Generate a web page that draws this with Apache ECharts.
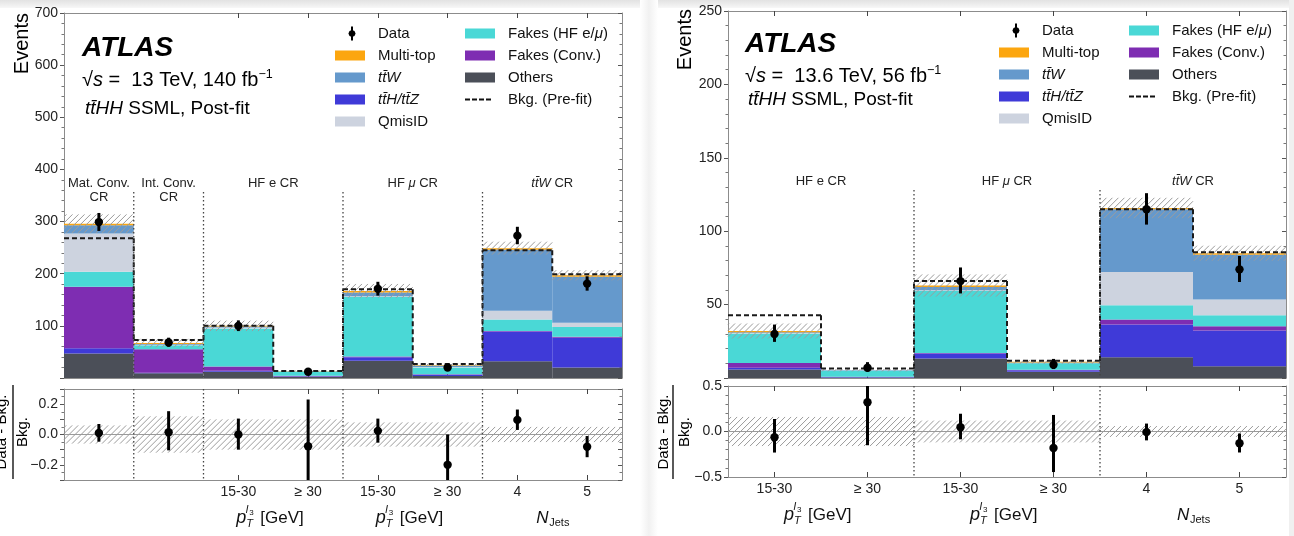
<!DOCTYPE html>
<html>
<head>
<meta charset="utf-8">
<title>ttHH SSML control regions</title>
<script src="https://cdn.jsdelivr.net/npm/echarts@6.0.0/dist/echarts.min.js"></script>
<style>
html, body { margin:0; padding:0; background:#ffffff; }
#chart { width:1294px; height:536px; }
</style>
</head>
<body>
<div id="chart"></div>
<script>
// ===================== DATA =====================
// Left figure: sqrt(s) = 13 TeV, 140 fb^-1
const L_binLabels = ['', '', '15-30', '≥ 30', '15-30', '≥ 30', '4', '5'];
const L_others    = [47, 9, 12, 2.5, 33, 4, 32, 20];
const L_ttHZ      = [10, 1, 2, 1, 7, 2, 57, 57];
const L_fakeConv  = [118, 45, 8, 1, 1, 1, 1, 2];
const L_fakeHF    = [29, 8, 73, 8, 115, 13, 22, 19];
const L_qmisid    = [73, 1, 2, 0, 1, 1, 17, 8];
const L_ttW       = [16, 1, 2, 0, 7, 3, 117, 88];
const L_multitop  = [3, 2, 1, 0.5, 3, 1, 3, 3];
const L_data      = [299, 68, 100, 12, 171, 20, 273, 181];
const L_dataErrUp = [17.5, 9.3, 10.5, 4.0, 13.5, 5.0, 17, 14];
const L_dataErrDn = [17, 8, 10, 3.4, 13, 4.4, 16.5, 13.5];
const L_prefit    = [268, 73, 100, 13.5, 170, 27, 245, 199];
const L_bkgUncRel = [0.06, 0.12, 0.10, 0.10, 0.08, 0.08, 0.05, 0.05];
const L_regionStart  = [0, 1, 2, 4, 6];
const L_regionEnd    = [1, 2, 4, 6, 8];
const L_regionLabels = ['Mat. Conv.\nCR', 'Int. Conv.\nCR', 'HF e CR', 'HF {i|μ} CR', '{i|tt\u0304W} CR'];
const L_regionVar    = ['', '', 'pt', 'pt', 'nj'];

// Right figure: sqrt(s) = 13.6 TeV, 56 fb^-1
const R_binLabels = ['15-30', '≥ 30', '15-30', '≥ 30', '4', '5'];
const R_others    = [5.8, 0.4, 13.3, 4.3, 14.2, 8];
const R_ttHZ      = [1.2, 0.2, 3.4, 1, 22.2, 24.3];
const R_fakeConv  = [3.3, 0.3, 0.3, 0.3, 3.4, 3];
const R_fakeHF    = [20, 4.1, 42.5, 4.5, 9.7, 7.4];
const R_qmisid    = [0.3, 0, 0.3, 0, 22.7, 10.7];
const R_ttW       = [0.6, 0.2, 2.2, 0.4, 42.8, 30.6];
const R_multitop  = [0.8, 0.1, 1, 0.5, 0.8, 1];
const R_data      = [30, 7, 66, 9, 115, 74];
const R_dataErrUp = [6.4, 3.8, 9.3, 4.0, 10.9, 9.1];
const R_dataErrDn = [5.4, 2.5, 8.4, 2.9, 10.5, 8.6];
const R_prefit    = [42.7, 6.5, 66, 11.8, 115, 85.6];
const R_bkgUncRel = [0.16, 0.16, 0.12, 0.12, 0.06, 0.06];
const R_regionStart  = [0, 2, 4];
const R_regionEnd    = [2, 4, 6];
const R_regionLabels = ['HF e CR', 'HF {i|μ} CR', '{i|tt\u0304W} CR'];
const R_regionVar    = ['pt', 'pt', 'nj'];

// Stack order, bottom to top
const procNames = ['Others', 'tt\u0304H/tt\u0304Z', 'Fakes (Conv.)', 'Fakes (HF e/μ)', 'QmisID', 'tt\u0304W', 'Multi-top'];
const legendColA = ['Data', 'Multi-top', 'tt\u0304W', 'tt\u0304H/tt\u0304Z', 'QmisID'];
const legendColB = ['Fakes (HF e/μ)', 'Fakes (Conv.)', 'Others', 'Bkg. (Pre-fit)'];

// ===================== STYLE =====================
const FONT = '"Liberation Sans", Arial, Helvetica, sans-serif';
const procColors = ['#4b4f58', '#3f3ad8', '#7e2db2', '#4ad8d6', '#cdd3df', '#6599cc', '#fca60f'];
const HATCH = { stroke: '#9c9c9c', lineWidth: 1 };

function hatchRect(x0, y0, x1, y1) {
  const h = y1 - y0, s = 6, out = [];
  if (h <= 0) return out;
  const kStart = Math.floor((x0 - h) / s) * s;
  for (let k = kStart; k <= x1; k += s) {
    const t0 = Math.max(0, (x0 - k) / h), t1 = Math.min(1, (x1 - k) / h);
    if (t1 <= t0) continue;
    out.push({ type: 'line', shape: { x1: k + t0 * h, y1: y1 - t0 * h, x2: k + t1 * h, y2: y1 - t1 * h }, style: HATCH, silent: true });
  }
  return out;
}

function dataRender(params, api) {
  const cs = params.coordSys;
  const i = api.value(0), y = api.value(1), dn = api.value(2), up = api.value(3);
  const c = api.coord([i, y]), lo = api.coord([i, y - dn]), hi = api.coord([i, y + up]);
  const clamp = v => Math.min(Math.max(v, cs.y), cs.y + cs.height);
  const ch = [{ type: 'line', shape: { x1: c[0], y1: clamp(lo[1]), x2: c[0], y2: clamp(hi[1]) }, style: { stroke: '#000', lineWidth: 3 } }];
  if (c[1] >= cs.y && c[1] <= cs.y + cs.height) ch.push({ type: 'circle', shape: { cx: c[0], cy: c[1], r: 4.2 }, style: { fill: '#000' } });
  return { type: 'group', children: ch };
}

function varTitle(kind, cx, cy) {
  const base = { fontFamily: FONT, fill: '#111', textVerticalAlign: 'middle', verticalAlign: 'middle', textAlign: 'left', align: 'left' };
  if (kind === 'pt') return [
    { type: 'text', x: cx - 37, y: cy, style: Object.assign({}, base, { text: 'p', fontSize: 18, fontStyle: 'italic' }) },
    { type: 'text', x: cx - 27, y: cy + 6, style: Object.assign({}, base, { text: 'T', fontSize: 11, fontStyle: 'italic' }) },
    { type: 'text', x: cx - 27.5, y: cy - 8, style: Object.assign({}, base, { text: 'l', fontSize: 11, fontStyle: 'italic' }) },
    { type: 'text', x: cx - 24, y: cy - 5, style: Object.assign({}, base, { text: '3', fontSize: 8 }) },
    { type: 'text', x: cx - 13, y: cy, style: Object.assign({}, base, { text: '[GeV]', fontSize: 17 }) }
  ];
  if (kind === 'nj') return [
    { type: 'text', x: cx - 16, y: cy, style: Object.assign({}, base, { text: 'N', fontSize: 17, fontStyle: 'italic' }) },
    { type: 'text', x: cx - 3, y: cy + 5, style: Object.assign({}, base, { text: 'Jets', fontSize: 11 }) }
  ];
  return [];
}

function regionEdges(api, s, e) {
  const w = api.size([1, 0])[0];
  return [api.coord([s, 0])[0] - w / 2, api.coord([e - 1, 0])[0] + w / 2];
}

function buildPanel(p, ax) {
  const n = p.bins.length;
  const total = p.bins.map((_, i) => p.comps.reduce((s, c) => s + c[i], 0));
  const series = [];
  const cum = new Array(n).fill(0);
  // stacked backgrounds
  p.comps.forEach((c, k) => {
    const d = c.map((v, i) => { const b = cum[i]; cum[i] += v; return [i, b, cum[i]]; });
    series.push({
      type: 'custom', name: procNames[k], xAxisIndex: ax.mx, yAxisIndex: ax.my, z: 2,
      itemStyle: { color: procColors[k] }, data: d,
      renderItem: (params, api) => {
        const i = api.value(0), w = api.size([1, 0])[0];
        const a = api.coord([i, api.value(1)]), b = api.coord([i, api.value(2)]);
        return { type: 'rect', shape: { x: a[0] - w / 2, y: b[1], width: w, height: Math.max(a[1] - b[1], 0) }, style: { fill: procColors[k] } };
      }
    });
  });
  // uncertainty band (main)
  series.push({
    type: 'custom', name: 'uncMain', xAxisIndex: ax.mx, yAxisIndex: ax.my, z: 3, silent: true,
    data: total.map((t, i) => [i, t * (1 - p.unc[i]), t * (1 + p.unc[i])]),
    renderItem: (params, api) => {
      const i = api.value(0), w = api.size([1, 0])[0];
      const lo = api.coord([i, api.value(1)]), hi = api.coord([i, api.value(2)]);
      return { type: 'group', children: hatchRect(lo[0] - w / 2, hi[1], lo[0] + w / 2, lo[1]) };
    }
  });
  // pre-fit background (dashed step)
  series.push({
    type: 'custom', name: 'Bkg. (Pre-fit)', xAxisIndex: ax.mx, yAxisIndex: ax.my, z: 4,
    itemStyle: { color: '#111' },
    data: p.prefit.map((v, i) => [i, v, i > 0 ? p.prefit[i - 1] : v]),
    renderItem: (params, api) => {
      const i = api.value(0), w = api.size([1, 0])[0];
      const c = api.coord([i, api.value(1)]), pr = api.coord([i, api.value(2)]);
      const st = { stroke: '#1a1a1a', lineWidth: 2, lineDash: [5, 3] };
      const ch = [{ type: 'line', shape: { x1: c[0] - w / 2, y1: c[1], x2: c[0] + w / 2, y2: c[1] }, style: st }];
      if (i > 0) ch.push({ type: 'line', shape: { x1: c[0] - w / 2, y1: pr[1], x2: c[0] - w / 2, y2: c[1] }, style: st });
      return { type: 'group', children: ch };
    }
  });
  // region labels and separators (main)
  series.push({
    type: 'custom', name: 'regionsMain', xAxisIndex: ax.mx, yAxisIndex: ax.my, z: 4, silent: true, clip: false,
    data: p.rStart.map((s, j) => [s, p.rEnd[j]]),
    renderItem: (params, api) => {
      const cs = params.coordSys;
      const s = api.value(0), e = api.value(1);
      const [xs, xe] = regionEdges(api, s, e);
      const ch = [{
        type: 'text', x: (xs + xe) / 2, y: cs.y + 163,
        style: {
          text: p.rLabels[params.dataIndex], fontSize: 13, fontFamily: FONT, fill: '#222', lineHeight: 14,
          textAlign: 'center', align: 'center', textVerticalAlign: 'top', verticalAlign: 'top',
          rich: { i: { fontStyle: 'italic', fontSize: 13, fontFamily: FONT, fill: '#222', lineHeight: 14 } }
        }
      }];
      if (s > 0) ch.push({ type: 'line', shape: { x1: xs, y1: cs.y + 179, x2: xs, y2: cs.y + cs.height }, style: { stroke: '#444', lineWidth: 1.3, lineDash: [1.5, 2.5] } });
      return { type: 'group', children: ch };
    }
  });
  // data (main)
  series.push({
    type: 'custom', name: 'Data', xAxisIndex: ax.mx, yAxisIndex: ax.my, z: 5, itemStyle: { color: '#000' },
    data: p.data.map((v, i) => [i, v, p.errDn[i], p.errUp[i]]),
    renderItem: dataRender
  });
  // ratio band + zero line
  series.push({
    type: 'custom', name: 'uncRatio', xAxisIndex: ax.rx, yAxisIndex: ax.ry, z: 3, silent: true,
    data: p.unc.map((u, i) => [i, -u, u]),
    renderItem: (params, api) => {
      const i = api.value(0), w = api.size([1, 0])[0];
      const lo = api.coord([i, api.value(1)]), hi = api.coord([i, api.value(2)]), z0 = api.coord([i, 0]);
      const ch = hatchRect(lo[0] - w / 2, hi[1], lo[0] + w / 2, lo[1]);
      ch.push({ type: 'line', shape: { x1: z0[0] - w / 2, y1: z0[1], x2: z0[0] + w / 2, y2: z0[1] }, style: { stroke: '#9a9a9a', lineWidth: 1 } });
      return { type: 'group', children: ch };
    }
  });
  // ratio separators + variable titles
  series.push({
    type: 'custom', name: 'regionsRatio', xAxisIndex: ax.rx, yAxisIndex: ax.ry, z: 4, silent: true, clip: false,
    data: p.rStart.map((s, j) => [s, p.rEnd[j]]),
    renderItem: (params, api) => {
      const cs = params.coordSys;
      const s = api.value(0), e = api.value(1);
      const [xs, xe] = regionEdges(api, s, e);
      const ch = varTitle(p.rVar[params.dataIndex], (xs + xe) / 2, cs.y + cs.height + 38);
      if (s > 0) ch.push({ type: 'line', shape: { x1: xs, y1: cs.y, x2: xs, y2: cs.y + cs.height }, style: { stroke: '#444', lineWidth: 1.3, lineDash: [1.5, 2.5] } });
      return { type: 'group', children: ch };
    }
  });
  // ratio data
  series.push({
    type: 'custom', name: 'Data', xAxisIndex: ax.rx, yAxisIndex: ax.ry, z: 5, itemStyle: { color: '#000' },
    data: p.data.map((v, i) => [i, v / total[i] - 1, p.errDn[i] / total[i], p.errUp[i] / total[i]]),
    renderItem: dataRender
  });
  return series;
}

// ===================== AXES =====================
const tickFilter = labels => (idx) => labels[idx] !== '';
function xAx(gridIndex, data, position, showLabels) {
  return {
    type: 'category', gridIndex, data, position, boundaryGap: true,
    axisLine: { show: true, onZero: false, lineStyle: { color: '#8c8c8c', width: 1 } },
    axisTick: { show: true, inside: true, alignWithLabel: true, length: 5, interval: tickFilter(data), lineStyle: { color: '#444' } },
    axisLabel: { show: showLabels, interval: 0, fontSize: 14, color: '#222', margin: 5, fontFamily: FONT },
    splitLine: { show: false }
  };
}
function yAx(gridIndex, min, max, interval, position, fmt, minorSplit) {
  const right = position === 'right';
  return {
    type: 'value', gridIndex, min, max, interval, position,
    axisLine: { show: true, onZero: false, lineStyle: { color: '#8c8c8c' } },
    axisTick: { show: true, inside: right, length: 4, lineStyle: { color: '#555' } },
    minorTick: { show: true, splitNumber: minorSplit, length: 2.5, lineStyle: { color: '#777' } },
    axisLabel: { show: !right, formatter: fmt || (v => ''), fontSize: 14, color: '#222', margin: 6, fontFamily: FONT },
    splitLine: { show: false }, minorSplitLine: { show: false }
  };
}
const mainFmt = v => (v === 0 ? '' : String(v));
const ratioFmtL = v => { const r = Math.round(v * 10); if (r % 2 !== 0) return ''; if (r === 0) return '0.0'; return (r < 0 ? '\u2212' : '') + Math.abs(r / 10).toFixed(1); };
const ratioFmtR = v => { const r = Math.round(v * 10); if (r === 0) return '0.0'; return (r < 0 ? '\u2212' : '') + Math.abs(r / 10).toFixed(1); };

// ===================== LEGEND =====================
const CORNERS = 'M0,0h0.01v0.01h-0.01z M37.99,13.99h0.01v0.01h-0.01z ';
const ICON_RECT = 'path://' + CORNERS + 'M0,2h30v10h-30z';
const ICON_DASH = 'path://' + CORNERS + 'M0,6h5v2h-5z M7,6h5v2h-5z M14,6h5v2h-5z M21,6h5v2h-5z';
const ICON_DATA = 'path://' + CORNERS + 'M16,0h2v14h-2z M17,3.4 L19.5,4.5 L20.6,7 L19.5,9.5 L17,10.6 L14.5,9.5 L13.4,7 L14.5,4.5 Z';
function iconFor(name) { return name === 'Data' ? ICON_DATA : (name === 'Bkg. (Pre-fit)' ? ICON_DASH : ICON_RECT); }
function fmtName(name) {
  if (name.indexOf('tt\u0304') === 0) return '{i|' + name + '}';
  if (name === 'Fakes (HF e/μ)') return 'Fakes (HF e/{i|μ})';
  return name;
}
function mkLegend(left, top, names) {
  return {
    left, top, orient: 'vertical', padding: 0, itemGap: 7, itemWidth: 38, itemHeight: 14, selectedMode: false,
    data: names.map(n => ({ name: n, icon: iconFor(n) })),
    formatter: fmtName,
    itemStyle: { borderWidth: 0 },
    textStyle: { fontSize: 15, fontFamily: FONT, color: '#111',
      rich: { i: { fontSize: 15, fontFamily: FONT, fontStyle: 'italic', color: '#111' } } }
  };
}

// ===================== TEXT =====================
function txt(x, y, text, size, extra) {
  return { type: 'text', x, y, silent: true, style: Object.assign({
    text, fontSize: size, fontFamily: FONT, fill: '#000',
    textAlign: 'left', align: 'left', textVerticalAlign: 'middle', verticalAlign: 'middle'
  }, extra || {}) };
}
function richTitle(sz) {
  return {
    i: { fontStyle: 'italic', fontSize: sz, fontFamily: FONT, fill: '#000', lineHeight: 24 },
    sup: { fontSize: 12.5, fontFamily: FONT, fill: '#000', verticalAlign: 'top', lineHeight: 14 }
  };
}
function titleBlock(x, y1, y2, y3, energy) {
  return [
    txt(x, y1, 'ATLAS', 28, { fontWeight: 'bold', fontStyle: 'italic' }),
    txt(x, y2, '√{i|s} =  ' + energy + ' fb{sup|\u22121}', 20, { lineHeight: 24, rich: richTitle(20) }),
    txt(x + 3, y3, '{i|tt\u0304HH} SSML, Post-fit', 19, { lineHeight: 24, rich: richTitle(19) })
  ];
}
function ratioLabel(xText, xLine, xDen, yc) {
  const a = txt(xText, yc, 'Data - Bkg.', 15, { textAlign: 'center', align: 'center' });
  const b = txt(xDen, yc, 'Bkg.', 15, { textAlign: 'center', align: 'center' });
  a.rotation = Math.PI / 2; b.rotation = Math.PI / 2;
  return [a,
    { type: 'line', silent: true, shape: { x1: xLine, y1: yc - 47, x2: xLine, y2: yc + 47 }, style: { stroke: '#000', lineWidth: 1.3 } },
    b];
}
function eventsLabel(x, y) {
  const t = txt(x, y, 'Events', 20, { textAlign: 'right', align: 'right' });
  t.rotation = Math.PI / 2;
  return t;
}
const graphic = [
  { type: 'rect', silent: true, z: -1, shape: { x: 0, y: 0, width: 1294, height: 8 },
    style: { fill: { type: 'linear', x: 0, y: 0, x2: 0, y2: 1, colorStops: [{ offset: 0, color: '#e2e2e2' }, { offset: 1, color: '#f7f7f7' }] } } },
  { type: 'rect', silent: true, z: -1, shape: { x: 640, y: 0, width: 18, height: 536 },
    style: { fill: { type: 'linear', x: 0, y: 0, x2: 1, y2: 0, colorStops: [{ offset: 0, color: '#ffffff' }, { offset: 0.5, color: '#f1f1f1' }, { offset: 1, color: '#ffffff' }] } } },
  { type: 'rect', silent: true, z: -1, shape: { x: 1289, y: 0, width: 5, height: 536 }, style: { fill: '#f0f0f0' } },
  eventsLabel(22, 13),
  eventsLabel(685, 9),
  ...titleBlock(82, 48, 80, 109, '13 TeV, 140'),
  ...titleBlock(745, 44, 76, 100, '13.6 TeV, 56'),
  ...ratioLabel(2, 13, 23, 432),
  ...ratioLabel(664, 673, 685, 432)
];

// ===================== OPTION =====================
const L = { bins: L_binLabels, comps: [L_others, L_ttHZ, L_fakeConv, L_fakeHF, L_qmisid, L_ttW, L_multitop],
  data: L_data, errUp: L_dataErrUp, errDn: L_dataErrDn, prefit: L_prefit, unc: L_bkgUncRel,
  rStart: L_regionStart, rEnd: L_regionEnd, rLabels: L_regionLabels, rVar: L_regionVar };
const R = { bins: R_binLabels, comps: [R_others, R_ttHZ, R_fakeConv, R_fakeHF, R_qmisid, R_ttW, R_multitop],
  data: R_data, errUp: R_dataErrUp, errDn: R_dataErrDn, prefit: R_prefit, unc: R_bkgUncRel,
  rStart: R_regionStart, rEnd: R_regionEnd, rLabels: R_regionLabels, rVar: R_regionVar };

const option = {
  animation: false,
  backgroundColor: '#ffffff',
  textStyle: { fontFamily: FONT },
  grid: [
    { left: 64, top: 13, width: 558, height: 365, outerBoundsMode: 'none' },
    { left: 64, top: 389, width: 558, height: 91, outerBoundsMode: 'none' },
    { left: 728, top: 11, width: 558, height: 367, outerBoundsMode: 'none' },
    { left: 728, top: 386, width: 558, height: 91, outerBoundsMode: 'none' }
  ],
  xAxis: [
    xAx(0, L_binLabels, 'bottom', false), xAx(0, L_binLabels, 'top', false),
    xAx(1, L_binLabels, 'bottom', true), xAx(1, L_binLabels, 'top', false),
    xAx(2, R_binLabels, 'bottom', false), xAx(2, R_binLabels, 'top', false),
    xAx(3, R_binLabels, 'bottom', true), xAx(3, R_binLabels, 'top', false)
  ],
  yAxis: [
    yAx(0, 0, 700, 100, 'left', mainFmt, 5), yAx(0, 0, 700, 100, 'right', null, 5),
    yAx(1, -0.3, 0.3, 0.1, 'left', ratioFmtL, 2), yAx(1, -0.3, 0.3, 0.1, 'right', null, 2),
    yAx(2, 0, 250, 50, 'left', mainFmt, 5), yAx(2, 0, 250, 50, 'right', null, 5),
    yAx(3, -0.5, 0.5, 0.5, 'left', ratioFmtR, 5), yAx(3, -0.5, 0.5, 0.5, 'right', null, 5)
  ],
  legend: [
    mkLegend(335, 26, legendColA), mkLegend(465, 26, legendColB),
    mkLegend(999, 23, legendColA), mkLegend(1129, 23, legendColB)
  ],
  graphic,
  series: [].concat(
    buildPanel(L, { mx: 0, my: 0, rx: 2, ry: 2 }),
    buildPanel(R, { mx: 4, my: 4, rx: 6, ry: 6 })
  )
};

const chart = echarts.init(document.getElementById('chart'), null, { renderer: 'canvas' });
chart.setOption(option);
</script>
</body>
</html>
